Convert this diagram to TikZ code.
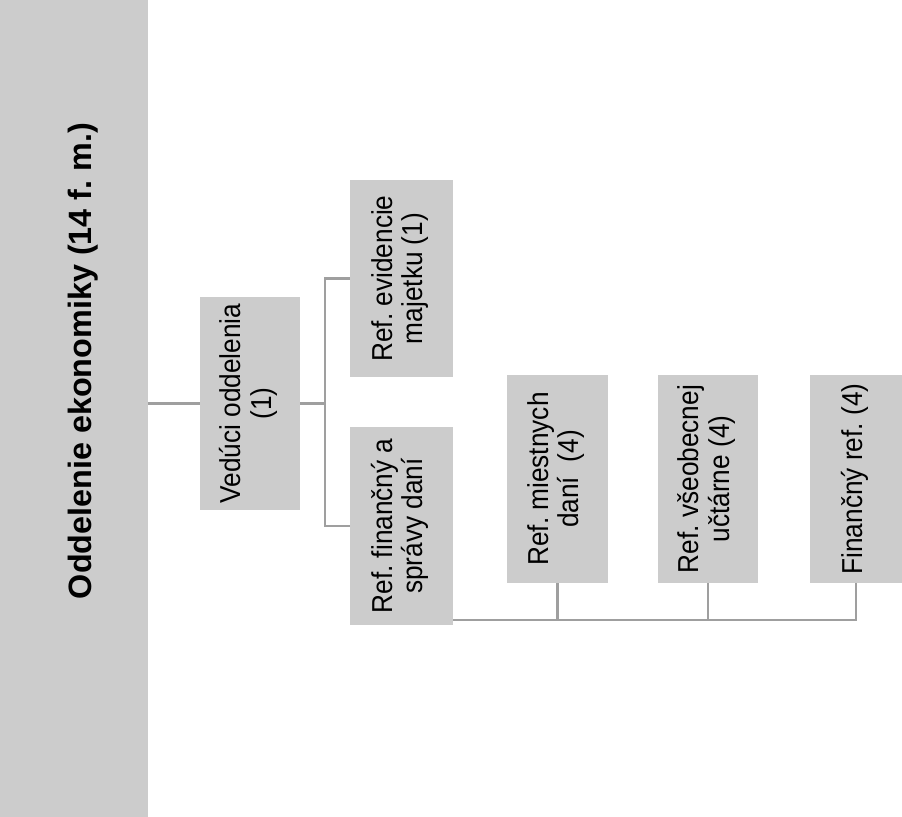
\documentclass[tikz,border=0pt]{standalone}
\usepackage{fontspec}
\setmainfont{Liberation Sans}
\usetikzlibrary{positioning}

\frenchspacing
\newcommand{\vtext}[1]{\rotatebox{90}{\scalebox{0.91}[1]{\begin{tabular}{@{}c@{}}#1\end{tabular}}}}

\begin{document}
\begin{tikzpicture}[
            x=0.02cm, y=-0.02cm,
            box/.style={fill=gray!40, inner sep=0pt, font=\fontsize{16.4}{17.2}\selectfont},
            conn/.style={draw=gray!75, line width=1.5pt},
        ]
            \useasboundingbox (0,0) rectangle (902,817);

            % main department
            \node[box, minimum width=2.96cm, minimum height=16.34cm] (odd) at (74,408.5) {};
            \node[rotate=90, font=\fontsize{18.4}{22}\selectfont\bfseries] (oddlbl) at (83,361) {Oddelenie ekonomiky (14 f. m.)};

            % head and sections
            \node[box, minimum width=2cm, minimum height=4.26cm] (ved) at (250,403.5) {\vtext{Vedúci oddelenia\\(1)}};
            \node[box, minimum width=2.06cm, minimum height=3.94cm] (evid) at (401.5,278.5) {\vtext{Ref. evidencie\\majetku (1)}};
            \node[box, minimum width=2.06cm, minimum height=3.96cm] (fin) at (401.5,526) {\vtext{Ref. finančný a\\správy daní}};
            \node[box, minimum width=2.02cm, minimum height=4.16cm] (mies) at (557.5,479) {\vtext{Ref. miestnych\\daní\ \ (4)}};
            \node[box, minimum width=2cm, minimum height=4.16cm] (vseob) at (708,479) {\vtext{Ref. všeobecnej\\učtárne (4)}};
            \node[box, minimum width=1.84cm, minimum height=4.16cm] (fref) at (856,479) {\vtext{Finančný ref. (4)}};

            \coordinate (fork) at (325,403.5);
            \coordinate (bus) at (0,620);

            \draw[conn] (odd.east |- ved.west) -- (ved.west);
            \draw[conn] (ved.east) -- (fork);
            \draw[conn] (evid.west) -| (fork) |- (fin.west);
            \draw[conn] (fin.east |- bus) -| (fref.south);
            \draw[conn] (mies.south) -- (mies.south |- bus);
            \draw[conn] (vseob.south) -- (vseob.south |- bus);
        \end{tikzpicture}
\end{document}
